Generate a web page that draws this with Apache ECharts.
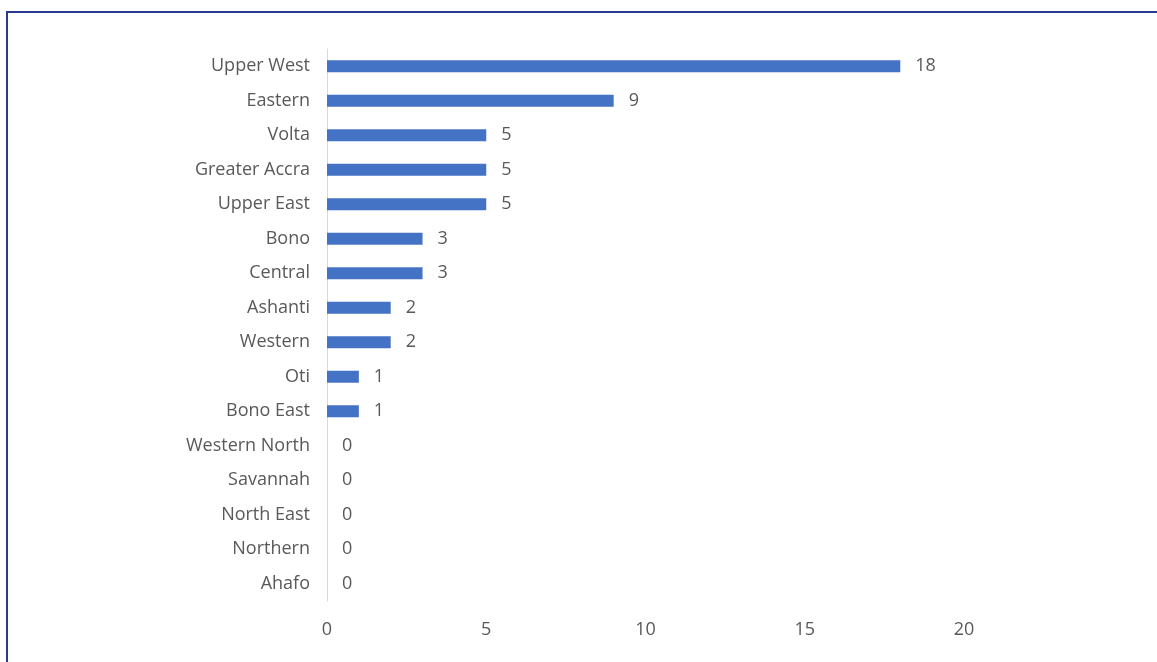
<!DOCTYPE html>
<html>
<head>
<meta charset="utf-8">
<title>Regions</title>
<script src="https://cdn.jsdelivr.net/npm/echarts@6/dist/echarts.min.js"></script>
<style>
  html, body { margin: 0; padding: 0; background: #ffffff; }
  #chart { width: 1157px; height: 662px; }
</style>
</head>
<body>
<div id="chart"></div>
<script>
// Regions, listed bottom-to-top as the category axis draws them
const regions = [
  'Ahafo', 'Northern', 'North East', 'Savannah', 'Western North',
  'Bono East', 'Oti', 'Western', 'Ashanti', 'Central', 'Bono',
  'Upper East', 'Greater Accra', 'Volta', 'Eastern', 'Upper West'
];
const counts = [0, 0, 0, 0, 0, 1, 1, 2, 2, 3, 3, 5, 5, 5, 9, 18];
const xTicks = [0, 5, 10, 15, 20];

const textColor = '#595959';
const fontFamily = '"Open Sans", "Noto Sans", sans-serif';
const fontSize = 18;

const chart = echarts.init(document.getElementById('chart'), null, { renderer: 'canvas' });

chart.setOption({
  animation: false,
  backgroundColor: '#ffffff',
  grid: { left: 327, right: 193, top: 49, bottom: 61, containLabel: false },
  xAxis: {
    type: 'value',
    min: xTicks[0],
    max: xTicks[xTicks.length - 1],
    interval: xTicks[1] - xTicks[0],
    axisLine: { show: false },
    axisTick: { show: false },
    splitLine: { show: false },
    axisLabel: { color: textColor, fontSize: fontSize, fontFamily: fontFamily, margin: 20 }
  },
  yAxis: {
    type: 'category',
    data: regions,
    axisLine: { show: true, lineStyle: { color: '#d9d9d9', width: 1 } },
    axisTick: { show: false },
    axisLabel: { color: textColor, fontSize: fontSize, fontFamily: fontFamily, margin: 17 }
  },
  series: [{
    type: 'bar',
    data: counts,
    barWidth: 12,
    itemStyle: { color: '#4472c4' },
    label: {
      show: true,
      position: 'right',
      distance: 15,
      color: textColor,
      fontSize: fontSize,
      fontFamily: fontFamily
    }
  }],
  graphic: [{
    type: 'polyline',
    shape: { points: [[7, 662], [7, 12], [1157, 12]] },
    style: { stroke: '#2b3990', lineWidth: 2, fill: null },
    silent: true
  }]
});
</script>
</body>
</html>
